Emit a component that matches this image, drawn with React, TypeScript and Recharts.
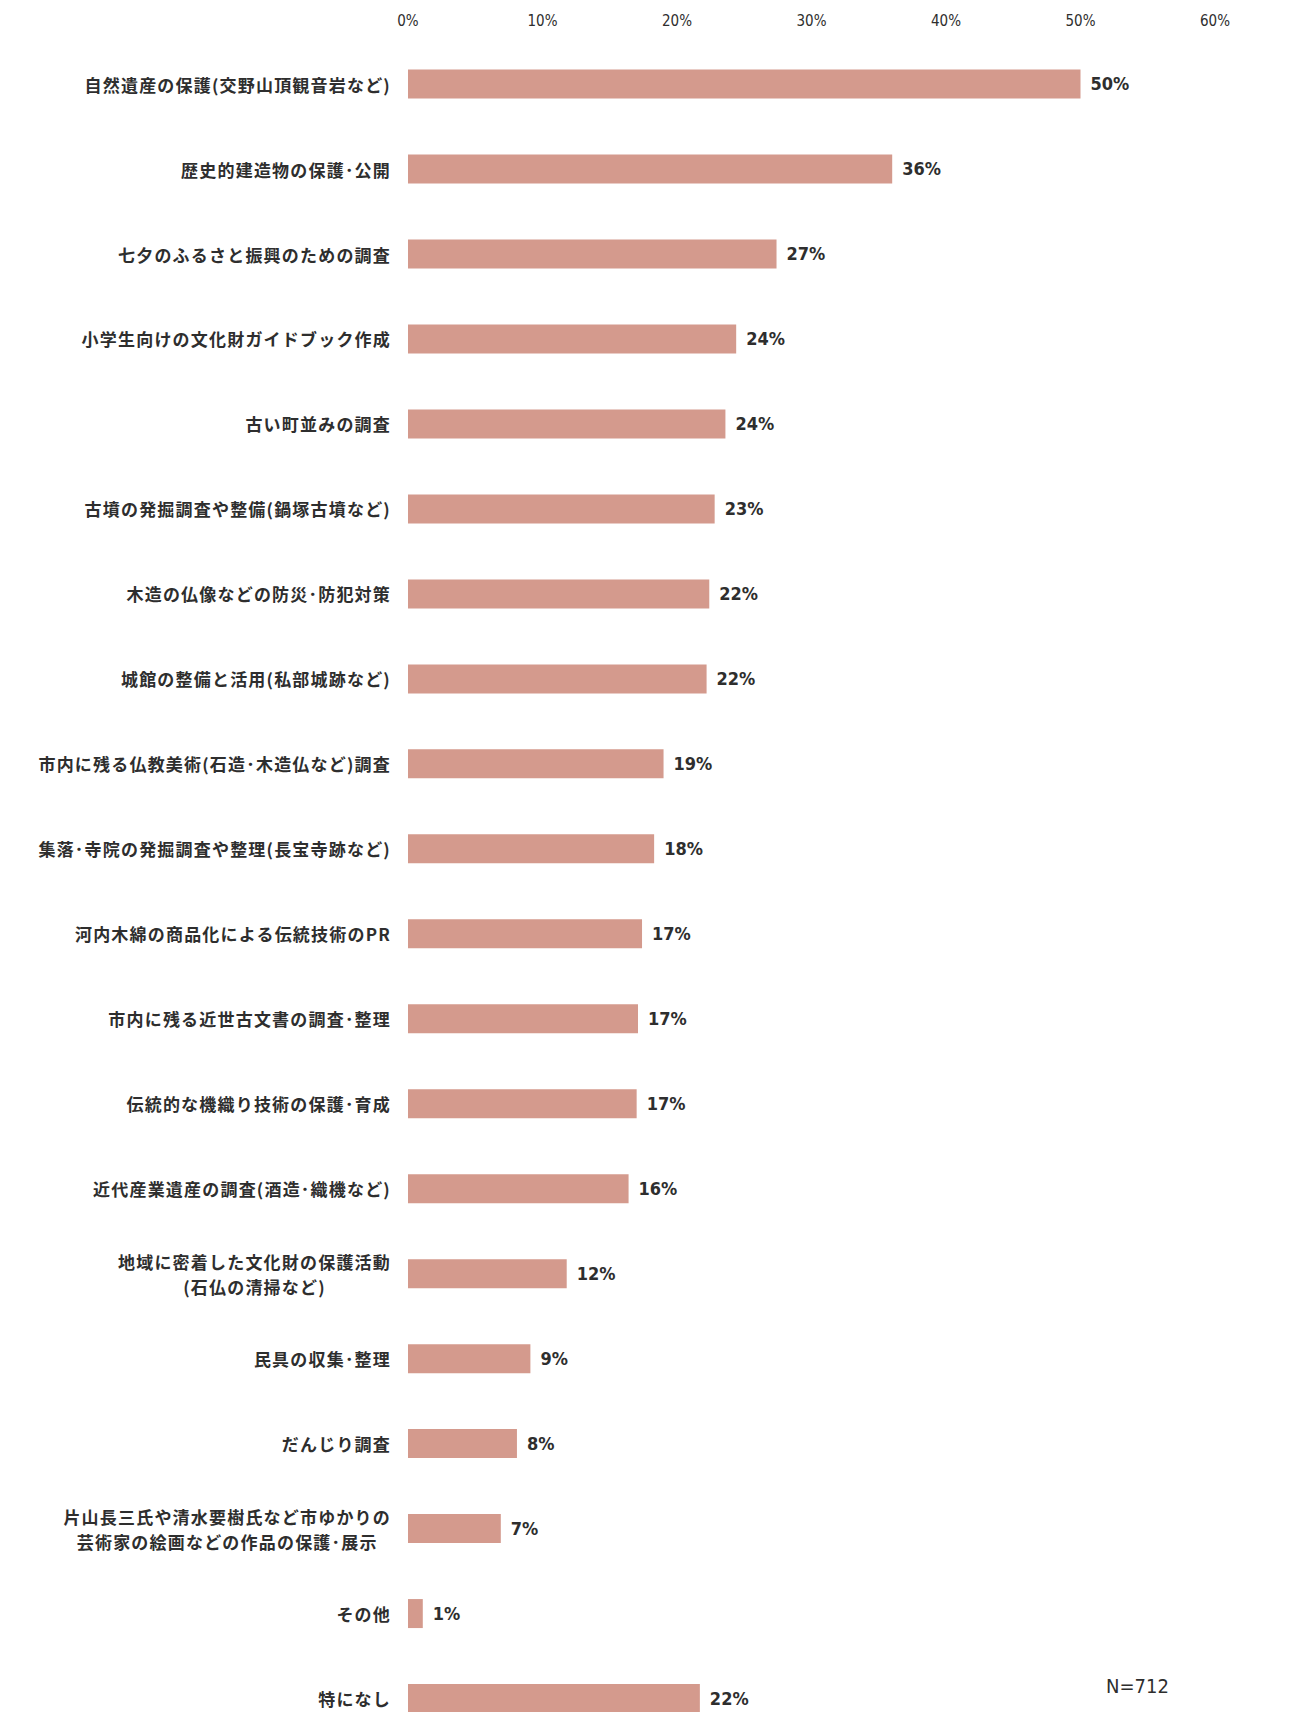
import React from "react";
import { BarChart, Bar, XAxis, YAxis, LabelList } from "recharts";

const categories: string[] = [
  "自然遺産の保護(交野山頂観音岩など)",
  "歴史的建造物の保護･公開",
  "七夕のふるさと振興のための調査",
  "小学生向けの文化財ガイドブック作成",
  "古い町並みの調査",
  "古墳の発掘調査や整備(鍋塚古墳など)",
  "木造の仏像などの防災･防犯対策",
  "城館の整備と活用(私部城跡など)",
  "市内に残る仏教美術(石造･木造仏など)調査",
  "集落･寺院の発掘調査や整理(長宝寺跡など)",
  "河内木綿の商品化による伝統技術のPR",
  "市内に残る近世古文書の調査･整理",
  "伝統的な機織り技術の保護･育成",
  "近代産業遺産の調査(酒造･織機など)",
  "地域に密着した文化財の保護活動\n(石仏の清掃など)",
  "民具の収集･整理",
  "だんじり調査",
  "片山長三氏や清水要樹氏など市ゆかりの\n芸術家の絵画などの作品の保護･展示",
  "その他",
  "特になし",
];

const values: number[] = [
  50, 36, 27.4, 24.4, 23.6, 22.8, 22.4, 22.2, 19, 18.3,
  17.4, 17.1, 17, 16.4, 11.8, 9.1, 8.1, 6.9, 1.1, 21.7,
];

const valueLabels: string[] = [
  "50%", "36%", "27%", "24%", "24%", "23%", "22%", "22%", "19%", "18%",
  "17%", "17%", "17%", "16%", "12%", "9%", "8%", "7%", "1%", "22%",
];

const xTicks: number[] = [0, 10, 20, 30, 40, 50, 60];

const sampleSize = "N=712";

const data = categories.map((name, i) => ({
  name,
  value: values[i],
  label: valueLabels[i],
}));

const BAR_COLOR = "#d49a8d";
const TEXT_COLOR = "#2e2e2e";
const CJK_FONT = "'Noto Sans CJK JP', 'Noto Sans', sans-serif";
const NARROW_FONT =
  "'Liberation Sans Narrow', 'Arial Narrow', 'DejaVu Sans Condensed', 'Liberation Sans', sans-serif";

const CJK_SIZE = 17;
const CJK_SPACING = 1.2;
const CHAR_W = 18.2;

const YTick = (props: any) => {
  const { x, y, payload } = props;
  const lines: string[] = String(payload.value).split("\n");
  const right = x - 17;
  const common = {
    dominantBaseline: "central" as const,
    fontFamily: CJK_FONT,
    fontSize: CJK_SIZE,
    fontWeight: 700,
    letterSpacing: CJK_SPACING,
    fill: TEXT_COLOR,
  };
  if (lines.length === 1) {
    return (
      <text x={right} y={y} textAnchor="end" {...common}>
        {lines[0]}
      </text>
    );
  }
  const maxLen = Math.max(...lines.map((l) => l.length));
  const cx = right - (maxLen * CHAR_W) / 2;
  const lh = 25;
  const startY = y - ((lines.length - 1) * lh) / 2;
  return (
    <g>
      {lines.map((l, i) => (
        <text key={i} x={cx} y={startY + i * lh} textAnchor="middle" {...common}>
          {l}
        </text>
      ))}
    </g>
  );
};

const XTick = (props: any) => {
  const { x, y, payload } = props;
  return (
    <text
      x={x}
      y={y - 21}
      textAnchor="middle"
      dominantBaseline="central"
      fontFamily={NARROW_FONT}
      fontSize={15}
      fill={TEXT_COLOR}
    >
      {`${payload.value}%`}
    </text>
  );
};

export default function App() {
  return (
    <div
      style={{
        position: "absolute",
        left: 0,
        top: 0,
        width: 1304,
        height: 1712,
        overflow: "hidden",
        background: "#ffffff",
      }}
    >
      <BarChart
        width={1304}
        height={1741}
        data={data}
        layout="vertical"
        margin={{ top: 11.6, right: 89, bottom: 0, left: 8 }}
        barSize={29}
      >
        <XAxis
          type="number"
          orientation="top"
          domain={[0, 60]}
          ticks={xTicks}
          axisLine={false}
          tickLine={false}
          tickSize={0}
          tickMargin={0}
          height={30}
          tick={<XTick />}
          interval={0}
        />
        <YAxis
          type="category"
          dataKey="name"
          width={400}
          axisLine={false}
          tickLine={false}
          tickSize={0}
          tickMargin={0}
          tick={<YTick />}
          interval={0}
        />
        <Bar dataKey="value" fill={BAR_COLOR} isAnimationActive={false}>
          <LabelList
            dataKey="label"
            position="right"
            offset={10}
            fill={TEXT_COLOR}
            fontSize={18}
            fontFamily={NARROW_FONT}
            fontWeight={700}
          />
        </Bar>
      </BarChart>
      <div
        style={{
          position: "absolute",
          left: 1106,
          top: 1674,
          fontFamily: NARROW_FONT,
          fontSize: 20,
          color: TEXT_COLOR,
          lineHeight: "24px",
        }}
      >
        {sampleSize}
      </div>
    </div>
  );
}
